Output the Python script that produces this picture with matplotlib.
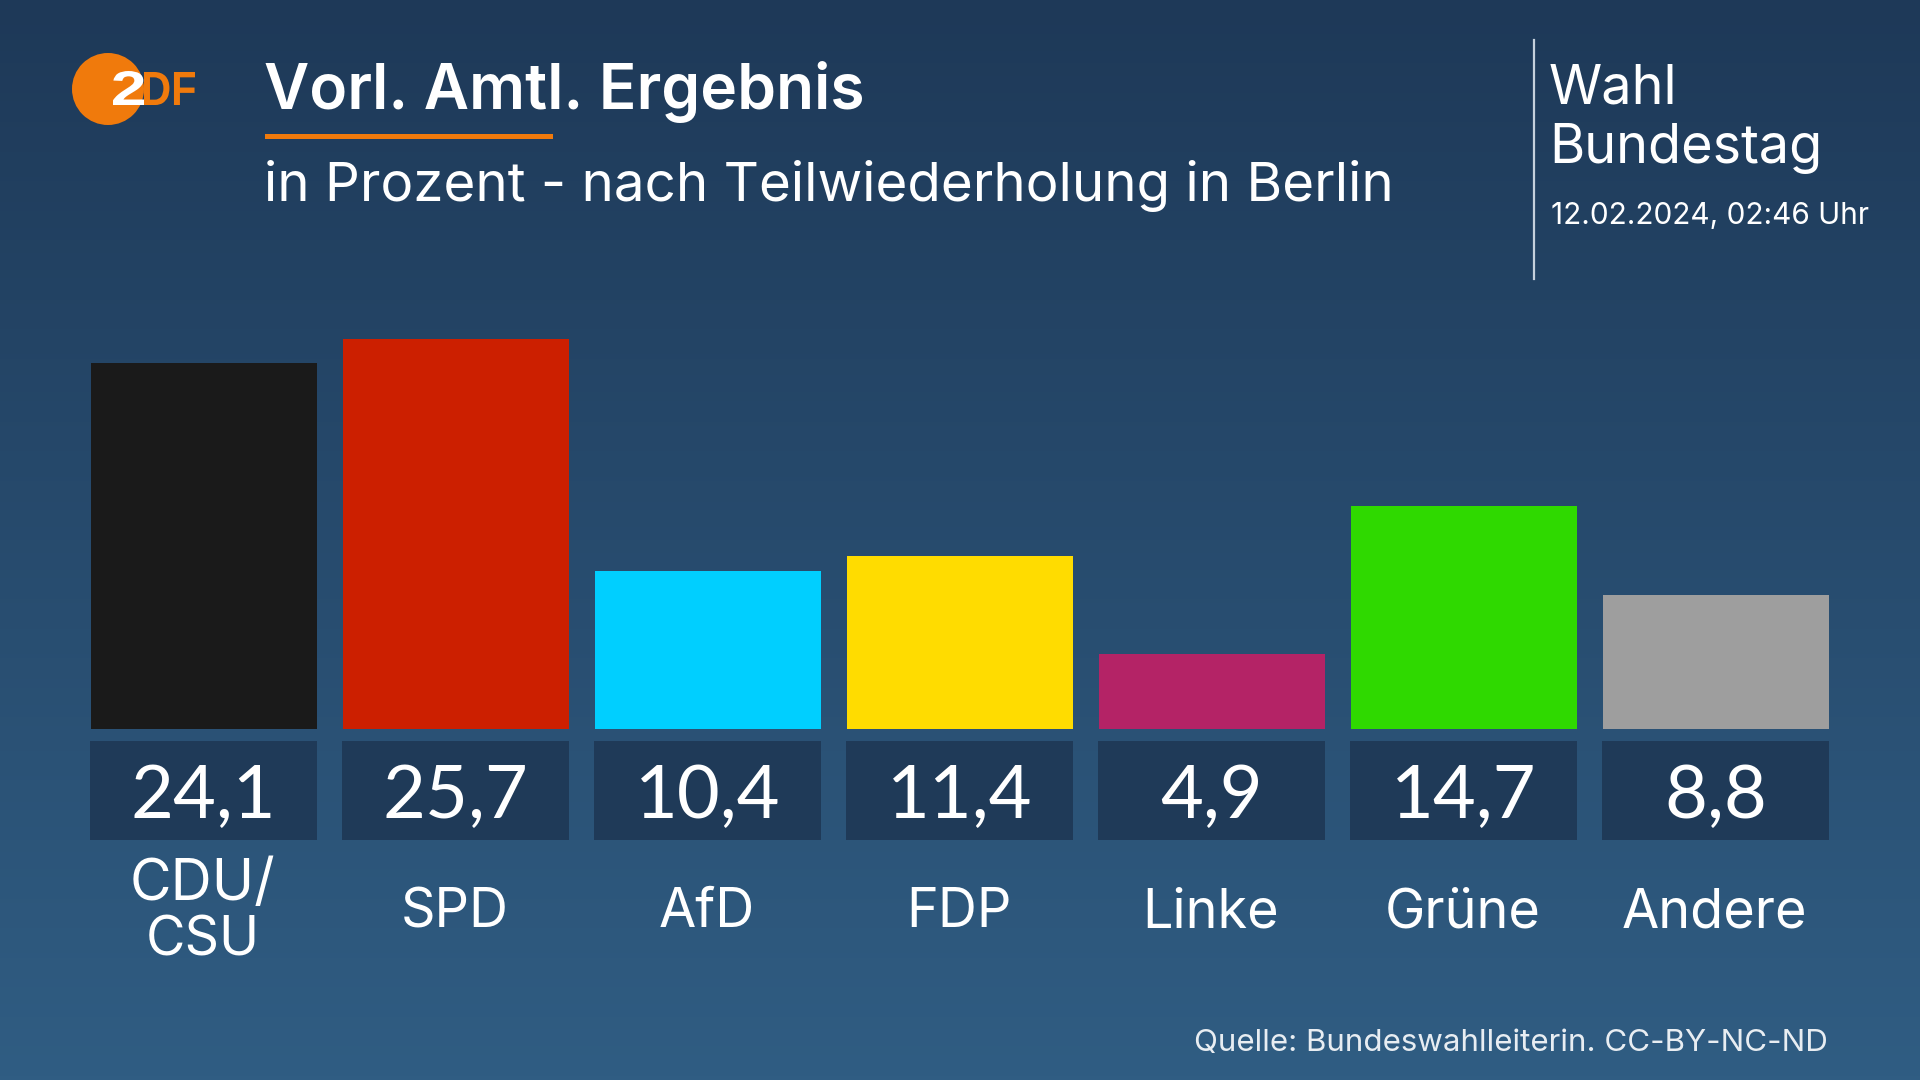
import numpy as np
import matplotlib
matplotlib.use('Agg')
import matplotlib.pyplot as plt
from matplotlib.colors import LinearSegmentedColormap
from matplotlib.font_manager import FontProperties
from matplotlib.patches import Circle, PathPatch, Rectangle
from matplotlib.textpath import TextPath
from matplotlib.transforms import Affine2D

parties = ['CDU/\nCSU', 'SPD', 'AfD', 'FDP', 'Linke', 'Grüne', 'Andere']
values = [24.1, 25.7, 10.4, 11.4, 4.9, 14.7, 8.8]
value_labels = ['24,1', '25,7', '10,4', '11,4', '4,9', '14,7', '8,8']
colors = ['#1a1a1a', '#cc1f00', '#00cfff', '#ffdc00', '#b42366', '#2fd900', '#9e9e9e']

title = 'Vorl. Amtl. Ergebnis'
subtitle = 'in Prozent - nach Teilwiederholung in Berlin'
side_lines = ['Wahl', 'Bundestag']
stamp = '12.02.2024, 02:46 Uhr'
source = 'Quelle: Bundeswahlleiterin. CC-BY-NC-ND'

W, H = 1920, 1080
font = 'Inter'
orange = '#f07a0c'
box_col = '#1f3a58'

fig = plt.figure(figsize=(W / 100, H / 100), dpi=100)

# full figure axes in pixels, for background and text
bg = fig.add_axes([0, 0, 1, 1])
bg.set_xlim(0, W)
bg.set_ylim(H, 0)
bg.axis('off')
cmap = LinearSegmentedColormap.from_list('bg', ['#1e3958', '#305d83'])
bg.imshow(np.linspace(0, 1, 256).reshape(-1, 1), cmap=cmap, aspect='auto', extent=[0, W, H, 0], zorder=0)

# bars, 15.15 px per percent point, baseline at y=728.5
ax = fig.add_axes([77.8 / W, (H - 728.5) / H, 1764 / W, 26 * 15.15 / H])
ax.patch.set_alpha(0)
x = np.arange(len(values))
ax.bar(x, values, width=0.899, color=colors)
ax.set_xlim(-0.5, 6.5)
ax.set_ylim(0, 26)
ax.axis('off')


def px(text, xp, yp, size, weight='normal', ha='left', va='baseline', color='white', family=font, **kw):
    return bg.text(xp, yp, text, fontsize=size * 0.72, fontweight=weight, ha=ha, va=va,
                   color=color, family=family, **kw)


def logo_text(text, left, right, top, bottom, color, weight):
    # squeeze the letters into a pixel box, the logo is narrower than any installed font
    path = TextPath((0, 0), text, size=10, prop=FontProperties(family='Liberation Sans', weight=weight))
    ext = path.get_extents()
    sx = (right - left) / ext.width
    sy = (bottom - top) / ext.height
    tr = Affine2D().translate(-ext.x0, -ext.y0).scale(sx, -sy).translate(left, bottom)
    bg.add_patch(PathPatch(path, transform=tr + bg.transData, facecolor=color, lw=0, zorder=3))


# value boxes and labels
for i in x:
    cx = 203.8 + 252 * i
    bg.add_patch(Rectangle((cx - 113.5, 741), 227, 99, color=box_col, lw=0, zorder=2))
    px(value_labels[i], cx, 818, 74, ha='center', zorder=3, family='Lato')
    if '\n' in parties[i]:
        a, b = parties[i].split('\n')
        px(a, cx - 1, 900, 57, ha='center')
        px(b, cx - 1, 955, 54, ha='center')
    else:
        px(parties[i], cx - 1, 927, 54, ha='center')

# logo
bg.add_patch(Circle((108, 89), 36, color=orange, lw=0, zorder=2))
logo_text('DF', 144, 195, 72, 105, orange, 'bold')
logo_text('2', 113, 144, 71, 105, 'white', 'bold')

# header
px(title, 264, 109, 62.2, weight='semibold')
bg.add_patch(Rectangle((265, 134), 288, 5, color=orange, lw=0))
px(subtitle, 264, 201, 54.7)
bg.plot([1534, 1534], [40, 279], color='#c5d0dc', lw=1.6)
px(side_lines[0], 1549, 103, 54)
px(side_lines[1], 1549, 163, 54)
px(stamp, 1551, 224, 29.8)
px(source, 1828, 1051, 31.3, ha='right', color='#e8edf2')

fig.savefig('out.png', dpi=100)
